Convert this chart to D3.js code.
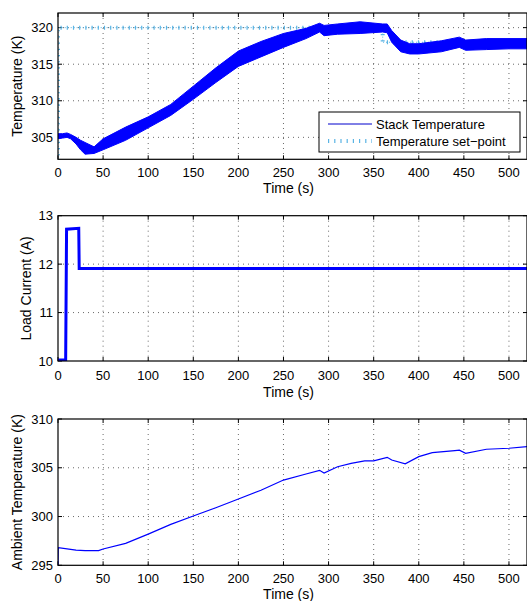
<!doctype html>
<html>
<head>
  <meta charset="utf-8">
  <title>Stack temperature, load current, ambient temperature</title>
  <style>
  body { margin: 0; background: #fff; }
  svg text { font-family: "Liberation Sans", Arial, sans-serif; font-size: 13px; fill: #000; }
  svg text.axis-label { font-size: 14px; }
  </style>
</head>
<body>
  <div id="vis"></div>
  <script src="https://d3js.org/d3.v7.min.js"></script>
  <script>
  // stack temperature, read as an upper / lower envelope of the noisy band
  var stackTime  = [0, 5, 10, 14, 20, 25, 30, 40, 50, 75, 100, 125, 150, 175, 200, 225, 250, 275, 290, 295, 310, 335, 360, 365, 370, 380, 390, 400, 425, 445, 452, 475, 500, 520];
  var stackUpper = [305.5, 305.5, 305.6, 305.4, 305.0, 304.6, 304.3, 303.7, 304.8, 306.4, 307.8, 309.5, 312.0, 314.5, 316.8, 318.1, 319.2, 319.9, 320.6, 320.3, 320.5, 320.8, 320.5, 320.5, 319.6, 318.3, 317.8, 317.8, 318.2, 318.7, 318.3, 318.5, 318.5, 318.5];
  var stackLower = [304.8, 304.9, 305.0, 304.8, 304.1, 303.3, 302.7, 302.8, 303.3, 304.6, 306.3, 308.0, 310.2, 312.5, 314.7, 316.0, 317.3, 318.5, 319.4, 318.9, 319.1, 319.2, 319.4, 319.3, 318.0, 316.7, 316.4, 316.4, 316.7, 317.3, 316.9, 317.0, 317.1, 317.1];

  var setTime  = [0, 0, 360, 360, 520];
  var setValue = [300, 320, 320, 318, 318];

  var currentTime  = [0, 8.5, 9.5, 23, 23.5, 520];
  var currentValue = [10.02, 10.02, 12.72, 12.74, 11.91, 11.91];

  var ambientTime  = [0, 0.3, 20, 30, 45, 50, 75, 100, 125, 150, 175, 200, 225, 250, 275, 290, 295, 310, 325, 340, 350, 365, 370, 385, 400, 415, 440, 445, 452, 475, 500, 520];
  var ambientValue = [295, 296.8, 296.56, 296.5, 296.5, 296.67, 297.25, 298.2, 299.2, 300.05, 300.9, 301.8, 302.7, 303.74, 304.36, 304.74, 304.46, 305.1, 305.45, 305.7, 305.7, 306.07, 305.8, 305.4, 306.14, 306.55, 306.75, 306.8, 306.48, 306.9, 307.0, 307.16];

  var xTicks = [0, 50, 100, 150, 200, 250, 300, 350, 400, 450, 500];
  var legendLabels = ['Stack Temperature', 'Temperature set\u2212point'];

  var width = 527, height = 601;
  var left = 58, right = 527;

  var svg = d3.select('#vis').append('svg')
    .attr('width', width)
    .attr('height', height);

  var x = d3.scaleLinear().domain([0, 520]).range([left, right]);

  var panels = [
    { id: 'p1', top: 13, bottom: 159.3, domain: [302, 322], ticks: [305, 310, 315, 320], label: 'Temperature (K)', labelX: 22, tickY: 177, timeY: 193 },
    { id: 'p2', top: 215.7, bottom: 361, domain: [10, 13], ticks: [10, 11, 12, 13], label: 'Load Current (A)', labelX: 31, tickY: 380, timeY: 397 },
    { id: 'p3', top: 419, bottom: 565.3, domain: [295, 310], ticks: [295, 300, 305, 310], label: 'Ambient Temperature (K)', labelX: 22, tickY: 583, timeY: 599 }
  ];

  function drawFrame(p){
    var y = d3.scaleLinear().domain(p.domain).range([p.bottom, p.top]);
    p.y = y;
    var g = svg.append('g');

    svg.append('clipPath').attr('id', 'clip-' + p.id)
      .append('rect')
      .attr('x', left).attr('y', p.top)
      .attr('width', right - left).attr('height', p.bottom - p.top);

    // dotted grid
    g.selectAll('.gx').data(xTicks.filter(function(d){ return d > 0; })).enter().append('line')
      .attr('x1', function(d){ return x(d); }).attr('x2', function(d){ return x(d); })
      .attr('y1', p.top).attr('y2', p.bottom)
      .attr('stroke', '#444').attr('stroke-width', 0.8).attr('stroke-dasharray', '1,4');
    g.selectAll('.gy').data(p.ticks.filter(function(d){ return d > p.domain[0] && d < p.domain[1]; })).enter().append('line')
      .attr('x1', left).attr('x2', right)
      .attr('y1', function(d){ return y(d); }).attr('y2', function(d){ return y(d); })
      .attr('stroke', '#444').attr('stroke-width', 0.8).attr('stroke-dasharray', '1,4');

    // inward ticks on all four sides
    g.selectAll('.tx').data(xTicks).enter().append('path')
      .attr('d', function(d){ return 'M' + x(d) + ',' + p.bottom + 'v-4M' + x(d) + ',' + p.top + 'v4'; })
      .attr('stroke', '#000').attr('stroke-width', 1);
    g.selectAll('.ty').data(p.ticks).enter().append('path')
      .attr('d', function(d){ return 'M' + left + ',' + y(d) + 'h4M' + right + ',' + y(d) + 'h-4'; })
      .attr('stroke', '#000').attr('stroke-width', 1);

    g.selectAll('.lx').data(xTicks).enter().append('text')
      .attr('x', function(d){ return x(d); }).attr('y', p.tickY)
      .attr('text-anchor', 'middle')
      .text(function(d){ return d; });
    g.selectAll('.ly').data(p.ticks).enter().append('text')
      .attr('x', 53).attr('y', function(d){ return y(d); })
      .attr('dy', '0.35em')
      .attr('text-anchor', 'end')
      .text(function(d){ return d; });

    g.append('text')
      .attr('class', 'axis-label')
      .attr('x', (left + right) / 2 - 4).attr('y', p.timeY)
      .attr('text-anchor', 'middle')
      .text('Time (s)');
    g.append('text')
      .attr('class', 'axis-label')
      .attr('transform', 'translate(' + p.labelX + ',' + ((p.top + p.bottom) / 2) + ') rotate(-90)')
      .attr('text-anchor', 'middle')
      .text(p.label);
    return g;
  }

  function drawBox(p){
    svg.append('rect')
      .attr('x', left).attr('y', p.top)
      .attr('width', right - left).attr('height', p.bottom - p.top)
      .attr('fill', 'none').attr('stroke', '#000').attr('stroke-width', 1.2);
  }

  panels.forEach(drawFrame);

  // panel 1: stack temperature and set-point
  var p1 = panels[0];
  var c1 = svg.append('g').attr('clip-path', 'url(#clip-p1)');
  var setLine = d3.line()
    .x(function(i){ return x(setTime[i]); })
    .y(function(i){ return p1.y(setValue[i]); });
  c1.append('path')
    .attr('d', setLine(d3.range(setTime.length)))
    .attr('fill', 'none').attr('stroke', '#5ab4e4').attr('stroke-width', 1)
    .attr('stroke-dasharray', '1,2');
  c1.append('path')
    .attr('d', setLine(d3.range(setTime.length)))
    .attr('fill', 'none').attr('stroke', '#5ab4e4').attr('stroke-width', 4)
    .attr('stroke-dasharray', '1.2,5');

  var band = d3.area()
    .x(function(i){ return x(stackTime[i]); })
    .y0(function(i){ return p1.y(stackLower[i]); })
    .y1(function(i){ return p1.y(stackUpper[i]); });
  c1.append('path')
    .attr('d', band(d3.range(stackTime.length)))
    .attr('fill', '#0000ff').attr('stroke', '#0000ff').attr('stroke-width', 1);

  // panel 2: load current
  var p2 = panels[1];
  var c2 = svg.append('g').attr('clip-path', 'url(#clip-p2)');
  c2.append('path')
    .attr('d', d3.line()
      .x(function(i){ return x(currentTime[i]); })
      .y(function(i){ return p2.y(currentValue[i]); })(d3.range(currentTime.length)))
    .attr('fill', 'none').attr('stroke', '#0000ff').attr('stroke-width', 3);

  // panel 3: ambient temperature
  var p3 = panels[2];
  var c3 = svg.append('g').attr('clip-path', 'url(#clip-p3)');
  c3.append('path')
    .attr('d', d3.line()
      .x(function(i){ return x(ambientTime[i]); })
      .y(function(i){ return p3.y(ambientValue[i]); })(d3.range(ambientTime.length)))
    .attr('fill', 'none').attr('stroke', '#0000ff').attr('stroke-width', 1.2);

  panels.forEach(drawBox);

  // legend
  var lg = svg.append('g');
  lg.append('rect')
    .attr('x', 319).attr('y', 112).attr('width', 201).attr('height', 40)
    .attr('fill', '#fff').attr('stroke', '#000').attr('stroke-width', 1);
  lg.append('line')
    .attr('x1', 328).attr('x2', 372).attr('y1', 124).attr('y2', 124)
    .attr('stroke', '#0000cc').attr('stroke-width', 1);
  lg.append('line')
    .attr('x1', 328).attr('x2', 372).attr('y1', 141).attr('y2', 141)
    .attr('stroke', '#5ab4e4').attr('stroke-width', 4).attr('stroke-dasharray', '1.2,5');
  lg.selectAll('.lt').data(legendLabels).enter().append('text')
    .attr('x', 376).attr('y', function(d, i){ return 124 + i * 17; })
    .attr('dy', '0.35em')
    .text(function(d){ return d; });
  </script>
</body>
</html>
